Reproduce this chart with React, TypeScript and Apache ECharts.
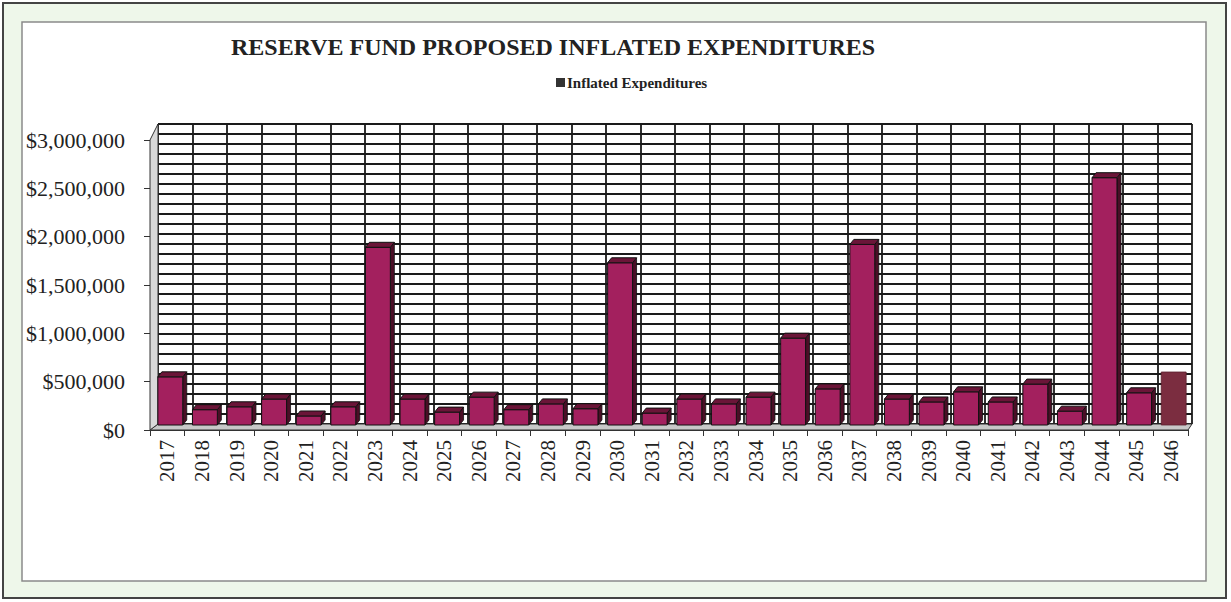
import React, { useEffect, useRef } from "react";
import * as echarts from "echarts";

const years: string[] = [
  "2017", "2018", "2019", "2020", "2021", "2022", "2023", "2024", "2025", "2026",
  "2027", "2028", "2029", "2030", "2031", "2032", "2033", "2034", "2035", "2036",
  "2037", "2038", "2039", "2040", "2041", "2042", "2043", "2044", "2045", "2046",
];

const inflatedExpenditures: number[] = [
  550000, 210000, 240000, 320000, 145000, 240000, 1890000, 320000, 185000, 340000,
  210000, 270000, 220000, 1730000, 175000, 320000, 270000, 340000, 950000, 425000,
  1920000, 320000, 290000, 395000, 290000, 475000, 195000, 2610000, 385000, 600000,
];

const yTickLabels: number[] = [0, 500000, 1000000, 1500000, 2000000, 2500000, 3000000];
const flatYear = "2046";

const titleText = "RESERVE FUND PROPOSED INFLATED EXPENDITURES";
const seriesName = "Inflated Expenditures";

const fmtMoney = (v: number) => "$" + v.toLocaleString("en-US");

export default function App() {
  const ref = useRef<HTMLDivElement>(null);

  useEffect(() => {
    if (!ref.current) return;
    const chart = echarts.init(ref.current, undefined, { renderer: "svg" });
    const serif = "'Liberation Serif', 'Times New Roman', serif";
    const yMax = yTickLabels[yTickLabels.length - 1];

    const option: any = {
      animation: false,
      backgroundColor: "transparent",
      title: {
        text: titleText,
        left: 226,
        top: 30,
        textStyle: { fontFamily: serif, fontWeight: "bold", fontSize: 24, color: "#222" },
      },
      legend: {
        left: 551,
        top: 70,
        itemWidth: 9,
        itemHeight: 9,
        itemGap: 4,
        textStyle: { fontFamily: serif, fontWeight: "bold", fontSize: 15, color: "#222", padding: [0, 0, 0, -3] },
        data: [{ name: seriesName, icon: "rect", itemStyle: { color: "#333" } }],
      },
      grid: [
        { left: 150, right: 43, top: 140, bottom: 172 },
        { left: 158, right: 39, top: 124, bottom: 178 },
      ],
      xAxis: [
        {
          type: "category",
          gridIndex: 0,
          data: years,
          axisLine: { show: true, lineStyle: { color: "#333", width: 1 } },
          axisTick: { show: true, length: 6, lineStyle: { color: "#333" } },
          axisLabel: {
            rotate: 90,
            interval: 0,
            margin: 10,
            fontFamily: serif,
            fontSize: 21,
            color: "#222",
          },
          splitLine: { show: false },
        },
        {
          type: "category",
          gridIndex: 1,
          data: years,
          axisLine: { show: false },
          axisTick: { show: false },
          axisLabel: { show: false },
          splitLine: { show: true, interval: 0, lineStyle: { color: "#1a1a1a", width: 1.8 } },
        },
      ],
      yAxis: [
        {
          type: "value",
          gridIndex: 0,
          min: 0,
          max: yMax,
          interval: 500000,
          axisLine: { show: false },
          axisTick: { show: true, length: 6, lineStyle: { color: "#333" } },
          axisLabel: {
            margin: 25,
            fontFamily: serif,
            fontSize: 22,
            color: "#222",
            formatter: (v: number) => fmtMoney(v),
          },
          splitLine: { show: false },
        },
        {
          type: "value",
          gridIndex: 1,
          min: 0,
          max: yMax,
          interval: 100000,
          axisLine: { show: false },
          axisTick: { show: false },
          axisLabel: { show: false },
          splitLine: { show: true, lineStyle: { color: "#1a1a1a", width: 1.8 } },
        },
      ],
      graphic: {
        elements: [
          {
            type: "rect",
            z: -20,
            shape: { x: 3, y: 3, width: 1223, height: 595 },
            style: { fill: "#eef7ea", stroke: "#444", lineWidth: 2 },
          },
          {
            type: "rect",
            z: -19,
            shape: { x: 22, y: 22, width: 1184, height: 559 },
            style: { fill: "#ffffff", stroke: "#8a8a8a", lineWidth: 1.5 },
          },
          {
            type: "polygon",
            z: 5,
            shape: { points: [[150, 140], [158, 124], [158, 424], [150, 430]] },
            style: { fill: "#d9d9d9", stroke: "#333", lineWidth: 1 },
          },
          {
            type: "polygon",
            z: 1,
            shape: { points: [[150, 430], [158, 424], [1192, 424], [1188, 430]] },
            style: { fill: "#c8c8c8", stroke: "#333", lineWidth: 1 },
          },
        ],
      },
      series: [
        {
          name: seriesName,
          type: "custom",
          xAxisIndex: 0,
          yAxisIndex: 0,
          z: 10,
          encode: { x: 0, y: 1 },
          data: inflatedExpenditures.map((v, i) => [i, v]),
          itemStyle: { color: "#a3205e" },
          renderItem: (params: any, api: any) => {
            const idx = api.value(0);
            const v = api.value(1);
            const top = api.coord([idx, v]);
            const base = api.coord([idx, 0]);
            const bw = api.size([1, 0])[0] * 0.72;
            const x0 = top[0] - bw / 2 + 3;
            const bottom = base[1] - 5;
            const isFlat = years[idx] === flatYear;
            if (isFlat) {
              return {
                type: "rect",
                shape: { x: x0, y: top[1], width: bw, height: bottom - top[1] },
                style: { fill: "#7b2d40", stroke: "#5a1f2d", lineWidth: 0.8 },
              };
            }
            const d = 4;
            const dy = 5;
            return {
              type: "group",
              children: [
                {
                  type: "polygon",
                  shape: {
                    points: [
                      [x0 + bw, top[1]],
                      [x0 + bw + d, top[1] - dy],
                      [x0 + bw + d, bottom - dy],
                      [x0 + bw, bottom],
                    ],
                  },
                  style: { fill: "#4a0e26", stroke: "#111", lineWidth: 0.8 },
                },
                {
                  type: "rect",
                  shape: { x: x0, y: top[1], width: bw, height: bottom - top[1] },
                  style: { fill: "#a3205e", stroke: "#111", lineWidth: 1 },
                },
                {
                  type: "polygon",
                  shape: {
                    points: [
                      [x0, top[1]],
                      [x0 + d, top[1] - dy],
                      [x0 + bw + d, top[1] - dy],
                      [x0 + bw, top[1]],
                    ],
                  },
                  style: { fill: "#6b1538", stroke: "#111", lineWidth: 1 },
                },
              ],
            };
          },
        },
      ],
    };

    chart.setOption(option);
    return () => chart.dispose();
  }, []);

  return (
    <div
      ref={ref}
      style={{ position: "absolute", left: 0, top: 0, width: 1231, height: 602 }}
    />
  );
}
